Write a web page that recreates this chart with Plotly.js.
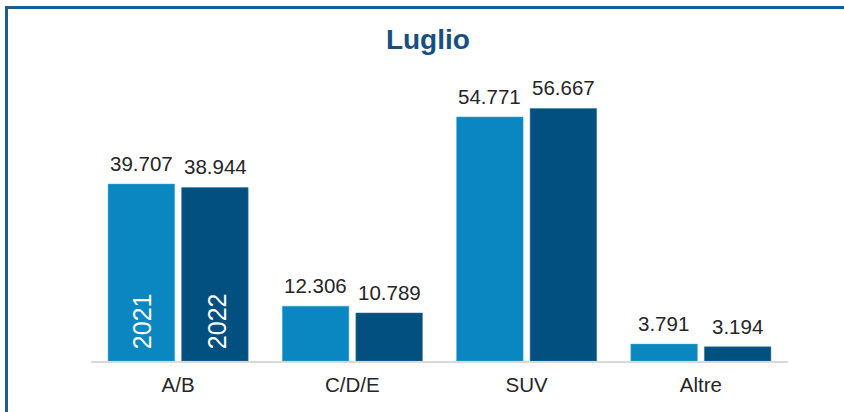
<!DOCTYPE html>
<html><head><meta charset="utf-8">
<script src="https://cdn.plot.ly/plotly-3.0.1.min.js"></script>
<style>
html,body{margin:0;padding:0;background:#fff;}
#chart{width:844px;height:412px;}
#frame{position:absolute;left:5px;top:6px;width:845px;height:420px;border-left:3px solid #1d5c8c;border-top:3px solid #1d5c8c;pointer-events:none;}
</style></head>
<body>
<div id="chart"></div>
<div id="frame"></div>
<script>
const categories = ['A/B', 'C/D/E', 'SUV', 'Altre'];
const seriesNames = ['2021', '2022'];
const values2021 = [39707, 12306, 54771, 3791];
const values2022 = [38944, 10789, 56667, 3194];

const FONT = 'Liberation Sans, Arial, sans-serif';
const colors = ['#0a87c0', '#02507f'];
const traces = [values2021, values2022].map((v, i) => ({
  type: 'bar', x: categories, y: v, name: seriesNames[i],
  marker: {color: colors[i], line: {color: i === 0 ? '#4aa6d3' : '#3a7aa3', width: 0.5}},
  hoverinfo: 'skip'
}));

const valueAnn = [];
[values2021, values2022].forEach((v, i) => {
  v.forEach((val, j) => {
    valueAnn.push({
      x: categories[j], y: val, xref: 'x', yref: 'y',
      text: val.toLocaleString('it-IT'), showarrow: false,
      xshift: i === 0 ? -37 : 37, yanchor: 'bottom', yshift: 7,
      font: {family: FONT, size: 20.5, color: '#262626'}
    });
  });
});

const layout = {
  width: 844, height: 412,
  margin: {l: 91, r: 56, t: 70, b: 51},
  separators: ',.',
  paper_bgcolor: '#fff', plot_bgcolor: '#fff',
  showlegend: false,
  barmode: 'group', bargap: 0.156, bargroupgap: 0.095,
  title: {text: '<b>Luglio</b>', x: 0.507, xref: 'container', xanchor: 'center', y: 0.905, yref: 'container', yanchor: 'middle',
    font: {family: FONT, size: 28, color: '#17507f'}},
  xaxis: {showline: true, linecolor: '#d9d9d9', linewidth: 2, ticks: '', showgrid: false,
    tickfont: {family: FONT, size: 20.5, color: '#262626'}, ticklabelstandoff: 4},
  yaxis: {range: [0, 65300], visible: false, showgrid: false, zeroline: false},
  annotations: valueAnn.concat(seriesNames.map((s, i) => ({
    x: categories[0], y: 0, xref: 'x', yref: 'y', text: s, textangle: -90, showarrow: false,
    xshift: i === 0 ? -36 : 39, yanchor: 'bottom', yshift: 10,
    font: {family: FONT, size: 25, color: '#ffffff'}
  })))
};

Plotly.newPlot('chart', traces, layout, {displayModeBar: false, staticPlot: true});
</script>
</body></html>
